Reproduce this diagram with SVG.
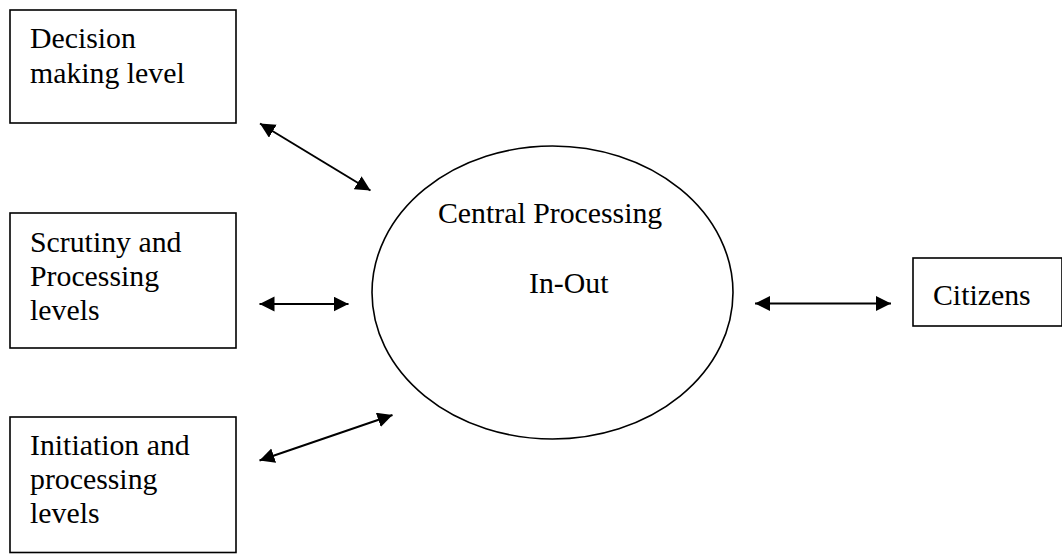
<svg xmlns="http://www.w3.org/2000/svg" width="1062" height="554" viewBox="0 0 1062 554">
  <style>
    .box { fill: #ffffff; stroke: #000000; stroke-width: 1.6; }
    .lbl { font-family: "Liberation Serif", "Times New Roman", serif; font-size: 29.8px; fill: #000000; }
    .link { stroke: #000000; stroke-width: 2; fill: none; marker-start: url(#head); marker-end: url(#head); }
  </style>
  <defs>
    <marker id="head" markerUnits="userSpaceOnUse" markerWidth="16" markerHeight="16" refX="15" refY="7.5" orient="auto-start-reverse" viewBox="0 0 16 16">
      <path d="M0,0 L15,7.5 L0,15 Z" fill="#000000"/>
    </marker>
  </defs>
  <rect width="1062" height="554" fill="#ffffff"/>

  <g id="decision">
    <rect class="box" x="10" y="10" width="226" height="113"/>
    <text class="lbl" x="30" y="48">Decision</text>
    <text class="lbl" x="30" y="83">making level</text>
  </g>

  <g id="scrutiny">
    <rect class="box" x="10" y="213" width="226" height="135"/>
    <text class="lbl" x="30" y="252">Scrutiny and</text>
    <text class="lbl" x="30" y="286">Processing</text>
    <text class="lbl" x="30" y="320">levels</text>
  </g>

  <g id="initiation">
    <rect class="box" x="10" y="417" width="226" height="135.5"/>
    <text class="lbl" x="30" y="455">Initiation and</text>
    <text class="lbl" x="30" y="489">processing</text>
    <text class="lbl" x="30" y="523">levels</text>
  </g>

  <g id="central">
    <ellipse class="box" cx="552.5" cy="292.5" rx="180.5" ry="146.5"/>
    <text class="lbl" x="438" y="223">Central Processing</text>
    <text class="lbl" x="529" y="293">In-Out</text>
  </g>

  <g id="citizens">
    <rect class="box" x="913" y="258" width="149" height="68"/>
    <text class="lbl" x="933" y="305">Citizens</text>
  </g>

  <g id="connectors">
    <line class="link" x1="260" y1="123.5" x2="370.5" y2="190.5"/>
    <line class="link" x1="259.5" y1="304" x2="348.5" y2="304"/>
    <line class="link" x1="259.5" y1="460.5" x2="392.5" y2="415"/>
    <line class="link" x1="755" y1="303.5" x2="891" y2="303.5"/>
  </g>
</svg>
